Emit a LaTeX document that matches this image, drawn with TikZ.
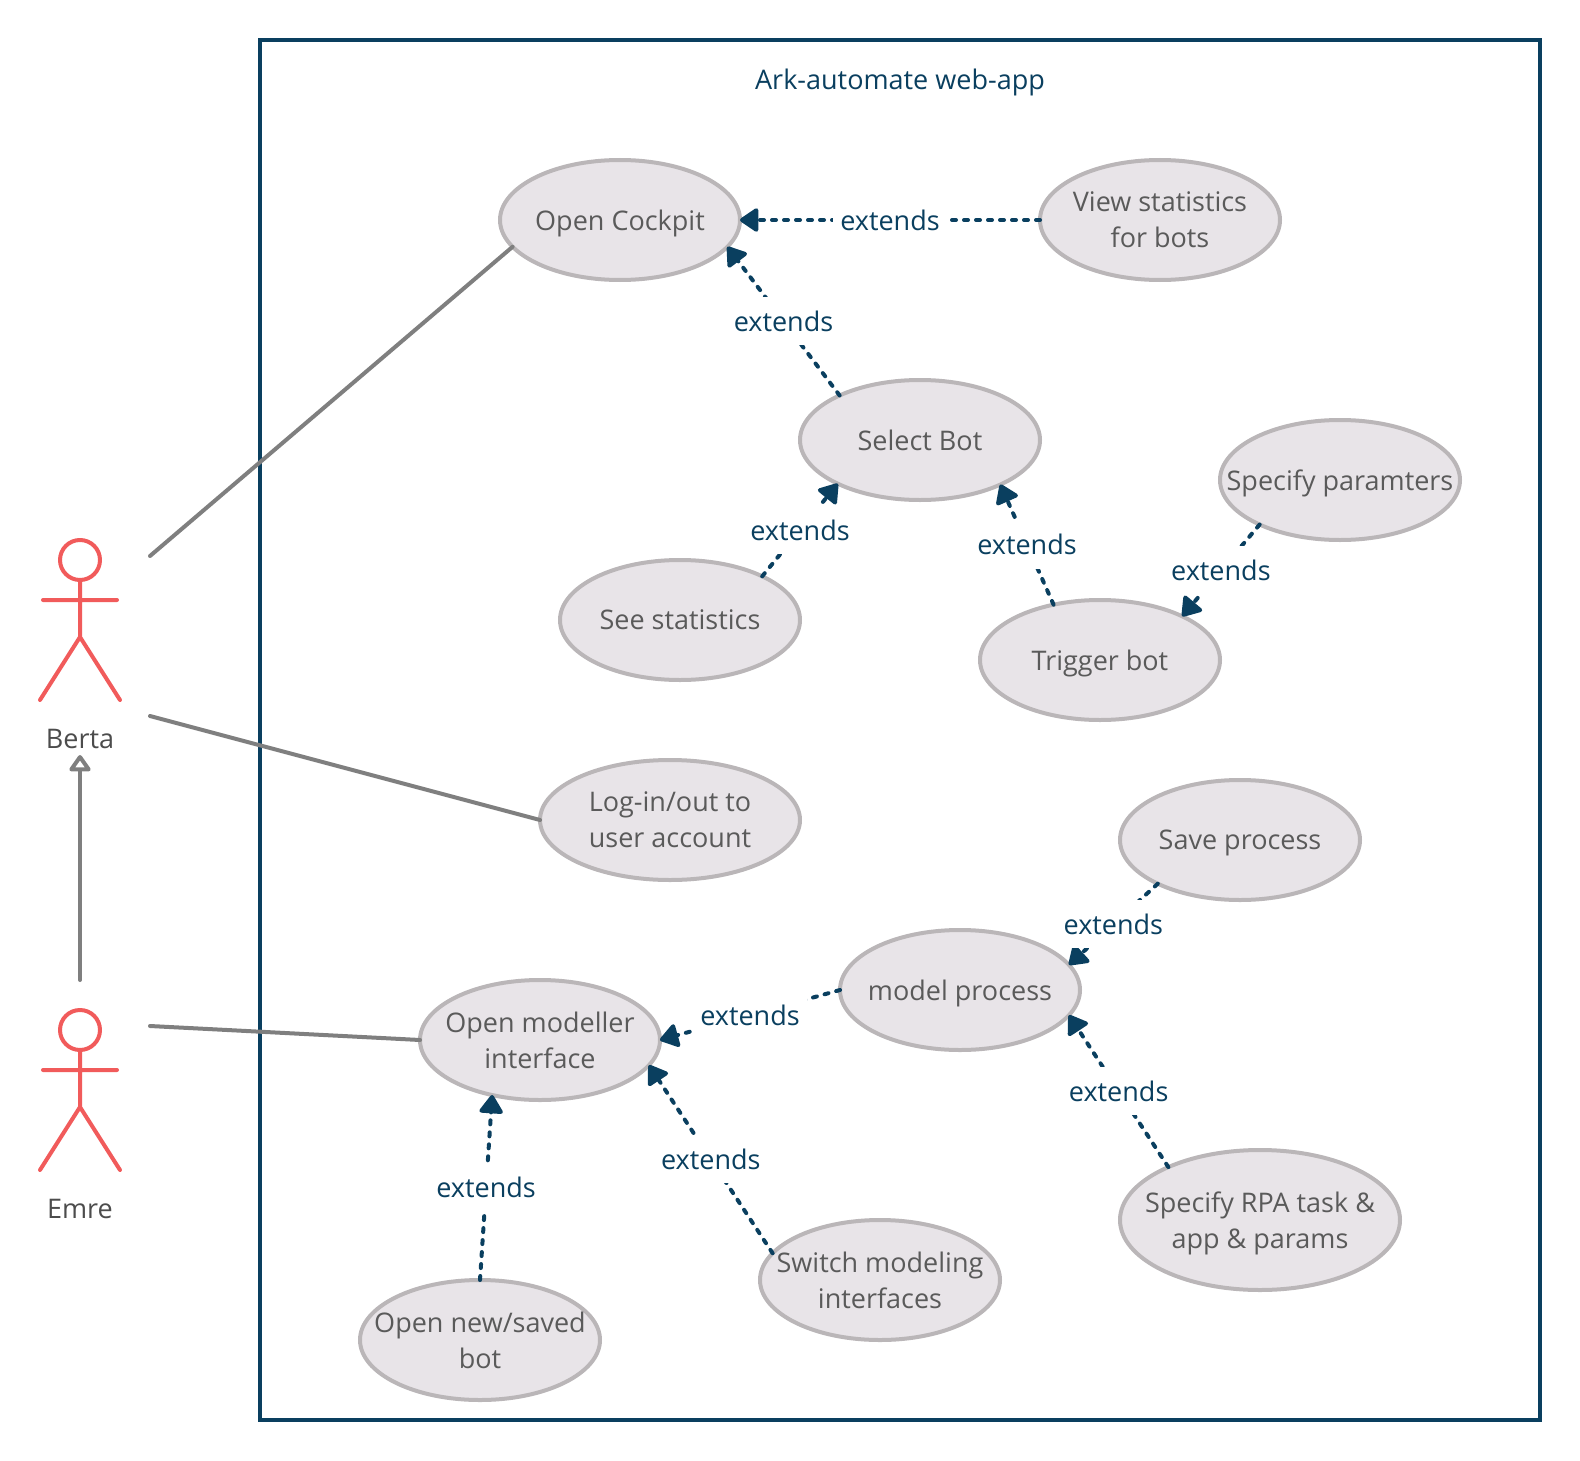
\documentclass[tikz,border=0pt]{standalone}
\usepackage{fontspec}
\setmainfont{Open Sans}
\usetikzlibrary{shapes.geometric,arrows.meta}
\definecolor{framecol}{HTML}{0A3F5F}
\definecolor{actorcol}{HTML}{F15B5B}
\definecolor{casefill}{HTML}{E8E4E8}
\definecolor{caseline}{HTML}{BAB6B8}
\definecolor{casetext}{HTML}{5A5A5A}
\definecolor{assoccol}{HTML}{7F7F7F}
\tikzset{
  labelfont/.style={font=\fontsize{13.5}{18}\selectfont,text depth=0pt},
  usecase/.style={ellipse,draw=caseline,fill=casefill,line width=2pt,outer sep=0pt,inner xsep=-30pt,inner ysep=0pt,
    minimum width=120pt,minimum height=60pt,align=center,text=casetext,labelfont},
  extendline/.style={draw=framecol,line width=2pt,line cap=round,dash pattern=on 2pt off 4pt,
    -{Triangle[length=10pt,width=13pt,round]}},
  extendlabel/.style={fill=white,text=framecol,labelfont,inner xsep=3.5pt,inner ysep=0pt,minimum height=24pt},
  assoc/.style={draw=assoccol,line width=2pt,line cap=round},
  actorname/.style={text=black!70,labelfont},
  stickman/.pic={
    \draw[actorcol,line width=2pt,line cap=round,line join=round]
      (0,0) circle (20) (0,20) -- (0,77) (-37,40) -- (37,40) (-40,140) -- (0,77) -- (40,140);
  }
}
\begin{document}
\begin{tikzpicture}[x=0.5pt,y=-0.5pt]
\useasboundingbox (0,0) rectangle (1580,1461);
\draw[framecol,line width=2pt] (260,40) rectangle (1540,1420);
\node[text=framecol,labelfont] (webapp) at (900,79) {Ark-automate web-app};
\pic at (80,560) {stickman};
\pic at (80,1030) {stickman};
\node[actorname] (berta) at (80,739) {Berta};
\node[actorname] (emre) at (80,1209) {Emre};
\coordinate (bertaup) at (150,556);
\coordinate (bertalow) at (150,716);
\coordinate (bertaunder) at (80,755);
\coordinate (emreup) at (150,1026);
\coordinate (emretop) at (80,980);
\node[usecase] (cockpit) at (620,220) {Open Cockpit};
\node[usecase] (viewstats) at (1160,220) {View statistics\\for bots};
\node[usecase] (selectbot) at (920,440) {Select Bot};
\node[usecase] (seestats) at (680,620) {See statistics};
\node[usecase] (triggerbot) at (1100,660) {Trigger bot};
\node[usecase] (params) at (1340,480) {Specify paramters};
\node[usecase,minimum width=130pt] (login) at (670,820) {Log-in/out to\\user account};
\node[usecase] (saveproc) at (1240,840) {Save process};
\node[usecase] (modelproc) at (960,990) {model process};
\node[usecase] (modeller) at (540,1040) {Open modeller\\interface};
\node[usecase,minimum width=140pt,minimum height=70pt] (rpatask) at (1260,1220) {Specify RPA task \&\\app \& params};
\node[usecase] (switchmode) at (880,1280) {Switch modeling\\interfaces};
\node[usecase] (opennew) at (480,1340) {Open new/saved\\bot};
\draw[assoc] (bertaup) -- (cockpit.194);
\draw[assoc] (bertalow) -- (login.west);
\draw[assoc] (emreup) -- (modeller.west);
\draw[assoc,-{Triangle[open,length=9pt,width=12pt,round]}] (emretop) -- (bertaunder);
\draw[extendline] (viewstats.180) -- node[extendlabel] {extends} (cockpit.0);
\draw[extendline] (selectbot.151) -- node[extendlabel] {extends} (cockpit.-14);
\draw[extendline] (seestats.28) -- node[extendlabel] {extends} (selectbot.208);
\draw[extendline] (triggerbot.130) -- node[extendlabel] {extends} (selectbot.-29);
\draw[extendline] (params.209) -- node[extendlabel] {extends} (triggerbot.28);
\draw[extendline] (saveproc.208) -- node[extendlabel] {extends} (modelproc.13);
\draw[extendline] (rpatask.150) -- node[extendlabel] {extends} (modelproc.-13);
\draw[extendline] (modelproc.180) -- node[extendlabel] {extends} (modeller.0);
\draw[extendline] (switchmode.166) -- node[extendlabel] {extends} (modeller.-13);
\draw[extendline] (opennew.90) -- node[extendlabel] {extends} (modeller.229);
\end{tikzpicture}
\end{document}
